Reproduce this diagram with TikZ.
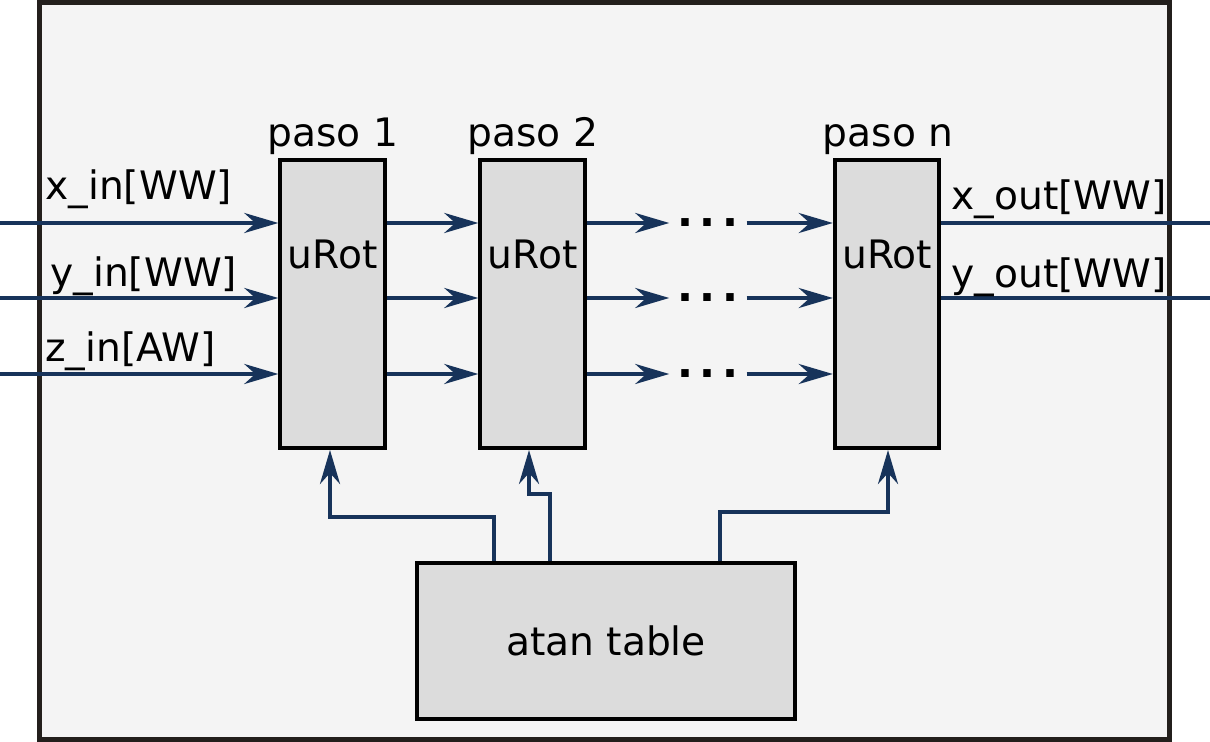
\documentclass[tikz,border=0pt]{standalone}
\usepackage{fontspec}
\setmainfont{DejaVu Sans}
\usetikzlibrary{arrows.meta}

\definecolor{navy}{HTML}{17335A}
\definecolor{framecol}{HTML}{231F1C}
\definecolor{boxfill}{HTML}{DCDCDC}
\definecolor{bgfill}{HTML}{F4F4F4}

\tikzset{
  stage/.style={draw, line width=2pt, fill=boxfill, minimum width=52.2pt, minimum height=144pt, inner sep=0pt},
  sig/.style={navy, line width=1.9pt, -{Stealth[length=17pt,width=10pt,inset=5.5pt]}},
  wire/.style={navy, line width=1.9pt},
  lbl/.style={inner sep=0pt, anchor=base west},
  dots/.style={inner sep=0pt, outer xsep=4pt, font=\fontsize{21}{24}\selectfont\bfseries},
}

\begin{document}
\begin{tikzpicture}[x=0.5pt, y=-0.5pt, font=\fontsize{19.6}{23}\selectfont]
    \useasboundingbox (0,0) rectangle (1210,742);
    \draw[framecol, line width=2.5pt, fill=bgfill] (39.5,2.5) rectangle (1169.5,739.5);

    % stages
    \node[stage] (p1) at (332.5,304) {};
    \node[stage] (p2) at (532.5,304) {};
    \node[stage] (pn) at (887,304) {};
    \node[stage, minimum width=188.75pt, minimum height=77.5pt] (atan) at (606,641) {atan table};

    \node[inner sep=0pt, anchor=base] (u1) at (332.5,269) {uRot};
    \node[inner sep=0pt, anchor=base] (u2) at (532.5,269) {uRot};
    \node[inner sep=0pt, anchor=base] (un) at (887,269) {uRot};

    \node[inner sep=0pt, anchor=base] (t1) at (333,147) {paso 1};
    \node[inner sep=0pt, anchor=base] (t2) at (533,147) {paso 2};
    \node[inner sep=0pt, anchor=base] (tn) at (888,147) {paso n};

    % inputs
    \coordinate (xin) at (0,223);
    \coordinate (yin) at (0,298);
    \coordinate (zin) at (0,374);
    \draw[sig] (xin) -- (xin -| p1.west);
    \draw[sig] (yin) -- (yin -| p1.west);
    \draw[sig] (zin) -- (zin -| p1.west);
    \node[lbl] (lx) at (45,200) {x\_in[WW]};
    \node[lbl] (ly) at (50,287) {y\_in[WW]};
    \node[lbl] (lz) at (45,362) {z\_in[AW]};

    % stage 1 -> stage 2
    \draw[sig] (p1.east |- xin) -- (p2.west |- xin);
    \draw[sig] (p1.east |- yin) -- (p2.west |- yin);
    \draw[sig] (p1.east |- zin) -- (p2.west |- zin);

    % stage 2 -> ... -> stage n
    \node[dots] (d1) at (708,223) {.\hspace{3.4pt}.\hspace{3.4pt}.};
    \node[dots] (d2) at (708,298) {.\hspace{3.4pt}.\hspace{3.4pt}.};
    \node[dots] (d3) at (708,374) {.\hspace{3.4pt}.\hspace{3.4pt}.};
    \draw[sig] (p2.east |- d1) -- (d1.west);
    \draw[sig] (p2.east |- d2) -- (d2.west);
    \draw[sig] (p2.east |- d3) -- (d3.west);
    \draw[sig] (d1.east) -- (pn.west |- d1);
    \draw[sig] (d2.east) -- (pn.west |- d2);
    \draw[sig] (d3.east) -- (pn.west |- d3);

    % outputs
    \coordinate (xout) at (1210,223);
    \coordinate (yout) at (1210,298);
    \draw[wire] (pn.east |- xout) -- (xout);
    \draw[wire] (pn.east |- yout) -- (yout);
    \node[lbl] (lxo) at (951,210) {x\_out[WW]};
    \node[lbl] (lyo) at (951,288) {y\_out[WW]};

    % table feeds
    \draw[sig] (atan.north -| 494,0) |- (330,517) -- (p1.south -| 330,0);
    \draw[sig] (atan.north -| 550,0) |- (529,494) -- (p2.south -| 529,0);
    \draw[sig] (atan.north -| 720,0) |- (888,512) -- (pn.south -| 888,0);
\end{tikzpicture}
\end{document}
